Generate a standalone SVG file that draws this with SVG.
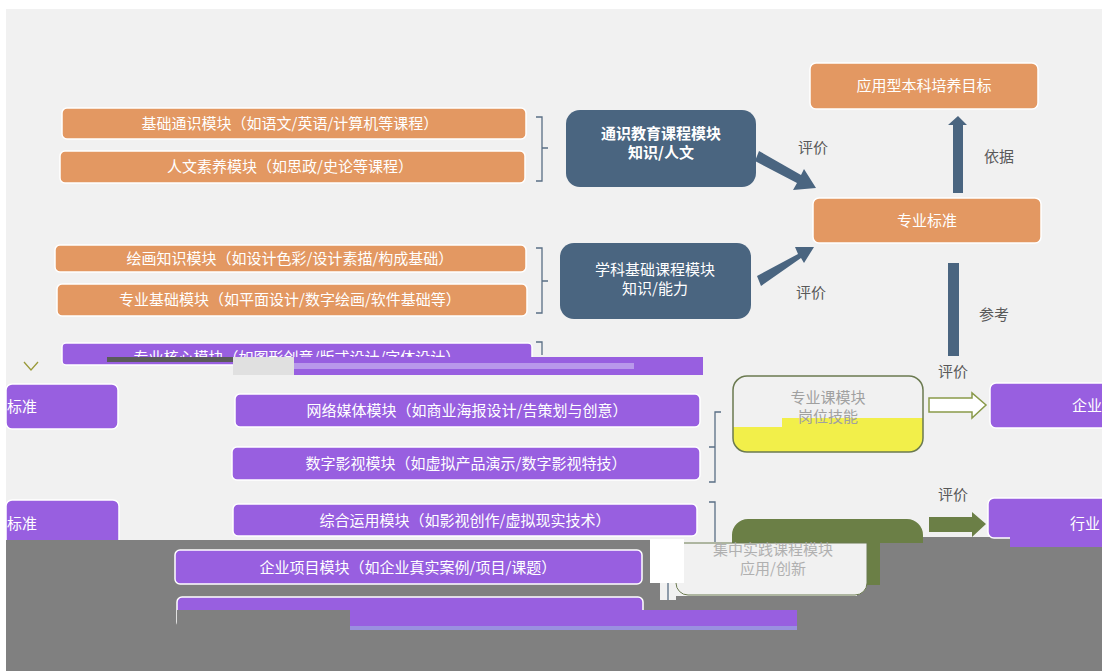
<svg xmlns="http://www.w3.org/2000/svg" width="1102" height="671" viewBox="0 0 1102 671">
<style>
text{font-family:"Noto Sans CJK SC","Noto Sans",sans-serif;}
.or{fill:#e39862;stroke:#ffffff;stroke-width:1.5;}
.bl{fill:#4a6580;}
.pu{fill:#985fe0;stroke:#ffffff;stroke-width:1.5;}
.wt{fill:#ffffff;font-size:15px;text-anchor:middle;}
.ws{fill:#ffffff;font-size:15px;text-anchor:start;}
.lb{fill:#595959;font-size:15px;text-anchor:middle;}
.br{fill:none;stroke:#5a6f85;stroke-width:1.3;}
.gr{fill:#808080;}
</style>
<defs>
<clipPath id="topclip"><rect x="62" y="343" width="470" height="14"/></clipPath>
</defs>
<rect x="0" y="0" width="1102" height="671" fill="#ffffff"/>
<rect x="6" y="9" width="1096" height="662" fill="#f1f1f1"/>

<g id="connectors">
<path class="br" d="M536,117 h6 v31 h6 M548,148 h-6 v33 h-6"/>
<path class="br" d="M536,248 h6 v33 h6 M548,281 h-6 v32 h-6"/>
<path class="br" d="M536,342 h6 v13"/>
<path class="br" d="M721,412 h-6 v35 h-6 M709,447 h6 v35 h-6"/>
<path class="br" d="M709,502 h6 v40"/>
<path class="br" d="M676,563 h-8 v44"/>
<polygon fill="#4a6580" points="759,151 801,175 804,169 816,188 793,190 797,183 755,161"/>
<polygon fill="#4a6580" points="757,276 798,254 795,247 814,247 804,263 801,258 761,286"/>
<polygon fill="#4a6580" points="953,193 953,125 948,125 958,116 967,125 963,125 963,193"/>
<rect x="948" y="263" width="11" height="93" fill="#4a6580"/>
<polygon fill="#ffffff" stroke="#8a9a4a" stroke-width="1.5" points="929,398 972,398 972,393 986,405 972,418 972,412 929,412"/>
<polygon fill="#6b7f46" points="929,517 972,517 972,512 986,524 972,537 972,532 929,532"/>
<polyline points="24,362 31,370 38,362" fill="none" stroke="#9a9a3a" stroke-width="1.3"/>
</g>

<g id="labels">
<text class="lb" x="813" y="153">评价</text>
<text class="lb" x="811" y="298">评价</text>
<text class="lb" x="999" y="162">依据</text>
<text class="lb" x="994" y="320">参考</text>
<text class="lb" x="953" y="377">评价</text>
<text class="lb" x="953" y="500">评价</text>
</g>

<g id="n1"><rect class="or" x="62" y="108" width="464" height="31" rx="5"/><text class="wt" x="290" y="129">基础通识模块（如语文/英语/计算机等课程）</text></g>
<g id="n2"><rect class="or" x="60" y="151" width="465" height="32" rx="5"/><text class="wt" x="290" y="172">人文素养模块（如思政/史论等课程）</text></g>
<g id="n3"><rect class="or" x="55" y="245" width="471" height="27" rx="5"/><text class="wt" x="290" y="264">绘画知识模块（如设计色彩/设计素描/构成基础）</text></g>
<g id="n4"><rect class="or" x="57" y="284" width="470" height="32" rx="5"/><text class="wt" x="290" y="305">专业基础模块（如平面设计/数字绘画/软件基础等）</text></g>

<g id="n5"><rect class="bl" x="566" y="110" width="190" height="77" rx="14"/><text class="wt" x="661" y="139" font-weight="bold">通识教育课程模块</text><text class="wt" x="661" y="158" font-weight="bold">知识/人文</text></g>
<g id="n6"><rect class="bl" x="560" y="243" width="191" height="76" rx="14"/><text class="wt" x="655" y="275">学科基础课程模块</text><text class="wt" x="655" y="294">知识/能力</text></g>

<g id="n7"><rect class="or" x="810" y="63" width="228" height="46" rx="6"/><text class="wt" x="924" y="91">应用型本科培养目标</text></g>
<g id="n8"><rect class="or" x="813" y="198" width="228" height="45" rx="6"/><text class="wt" x="927" y="226">专业标准</text></g>

<g id="n9"><rect class="pu" x="62" y="343" width="470" height="22" rx="4"/><text class="wt" x="297" y="363" clip-path="url(#topclip)">专业核心模块（如图形创意/版式设计/字体设计）</text>
<rect x="107" y="357" width="126" height="5" fill="#5a5a5a"/><rect x="233" y="357" width="61" height="18" fill="#e0e0e0"/><rect x="294" y="357" width="409" height="18" fill="#985fe0"/><rect x="294" y="363" width="340" height="6" fill="#c8b0f0" opacity="0.7"/></g>
<g id="n10"><rect class="pu" x="6" y="384" width="112" height="45" rx="6"/><text class="ws" x="7" y="412">标准</text></g>
<g id="n11"><rect class="pu" x="6" y="500" width="113" height="48" rx="6"/><text class="ws" x="7" y="529">标准</text></g>
<g id="n12"><rect class="pu" x="235" y="394" width="465" height="33" rx="5"/><text class="wt" x="467" y="416">网络媒体模块（如商业海报设计/告策划与创意）</text></g>
<g id="n13"><rect class="pu" x="232" y="447" width="468" height="33" rx="5"/><text class="wt" x="466" y="469">数字影视模块（如虚拟产品演示/数字影视特技）</text></g>
<g id="n14"><rect class="pu" x="233" y="504" width="464" height="32" rx="5"/><text class="wt" x="465" y="526">综合运用模块（如影视创作/虚拟现实技术）</text></g>

<g id="n15"><rect x="733" y="376" width="190" height="76" rx="14" fill="#f1f1f1"/>
<path d="M733,427 h49 v-9 h141 v20 a14,14 0 0 1 -14,14 h-162 a14,14 0 0 1 -14,-14 z" fill="#f2ef4a"/>
<rect x="733" y="376" width="190" height="76" rx="14" fill="none" stroke="#6b7a50" stroke-width="1.5"/>
<text x="828" y="403" font-size="15" fill="#a0a0a0" text-anchor="middle">专业课模块</text><text x="828" y="422" font-size="15" fill="#a0a0a0" text-anchor="middle">岗位技能</text></g>

<g id="n16"><rect class="pu" x="990" y="383" width="120" height="45" rx="6"/><text class="ws" x="1072" y="411">企业</text></g>

<g id="gray">
<polygon class="gr" points="6,540 660,540 660,600 676,600 676,596 867,596 867,600 1102,600 1102,537 857,537 857,671 6,671"/>
<rect class="gr" x="857" y="537" width="245" height="134"/>
</g>

<g id="n17"><rect class="pu" x="988" y="498" width="120" height="40" rx="6"/><text class="ws" x="1070" y="529">行业</text><rect x="1010" y="537" width="92" height="10" fill="#985fe0"/></g>

<g id="n18"><path d="M732,535 a16,16 0 0 1 16,-16 h159 a16,16 0 0 1 16,16 v8 h-43 v42 h-13 v-42 h-135 z" fill="#6b7f46"/>
<path d="M676,543 h191 v40 a12,12 0 0 1 -12,12 h-167 a12,12 0 0 1 -12,-12 z" fill="#f1f1f1" stroke="#6b7a50" stroke-width="1"/>
<rect x="650" y="539" width="34" height="44" fill="#ffffff"/>
<text x="773" y="555" font-size="15" fill="#b0b0b0" text-anchor="middle">集中实践课程模块</text><text x="773" y="574" font-size="15" fill="#b0b0b0" text-anchor="middle">应用/创新</text></g>

<g id="n19"><rect class="pu" x="175" y="550" width="467" height="34" rx="5"/><text class="wt" x="408" y="573">企业项目模块（如企业真实案例/项目/课题）</text></g>
<g id="n20"><rect class="pu" x="177" y="597" width="466" height="30" rx="5"/><rect class="gr" x="177" y="610" width="173" height="30"/><rect x="350" y="610" width="447" height="16" fill="#985fe0"/><rect x="350" y="626" width="447" height="4" fill="#9a90e0"/></g>
</svg>
